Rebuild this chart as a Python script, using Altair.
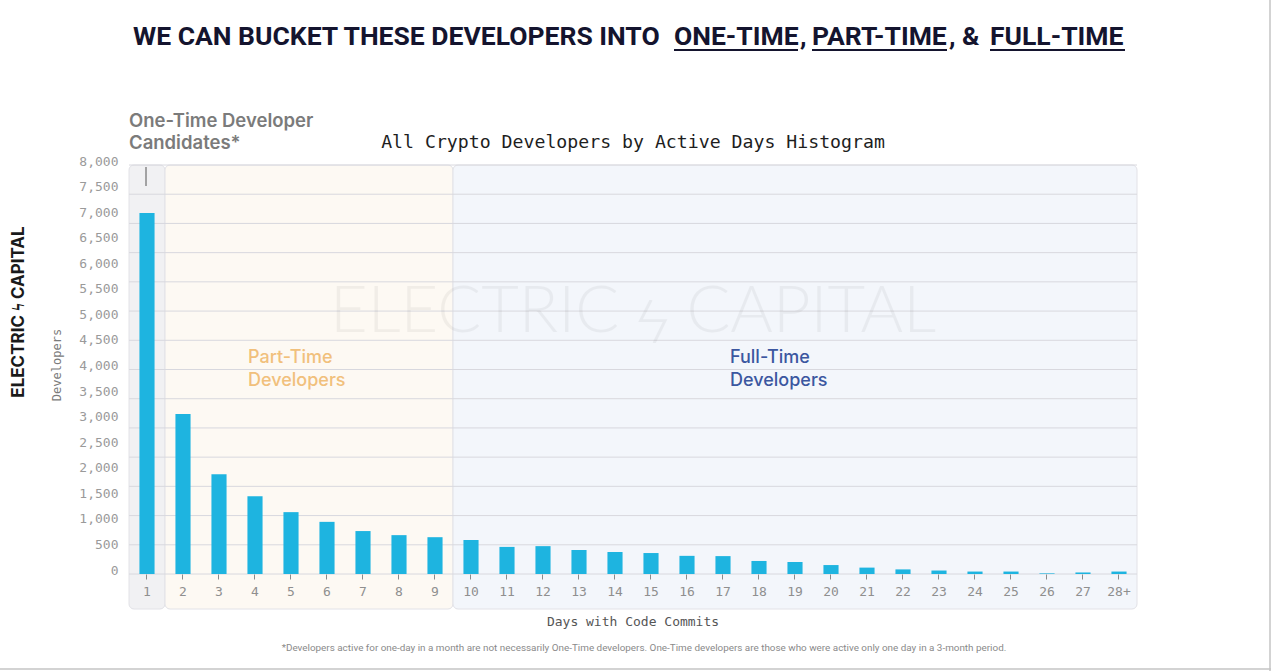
import altair as alt
import pandas as pd

# ---- data ----
days = [str(d) for d in range(1, 28)] + ["28+"]
developers = [7060, 3130, 1950, 1520, 1210, 1020, 840, 760, 720,
              665, 530, 545, 470, 430, 410, 355, 350, 255, 235,
              175, 125, 90, 68, 48, 48, 12, 30, 48]
y_ticks = list(range(0, 8001, 500))
grid_values = [0, 571.4, 1142.9, 1714.3, 2285.7, 2857.1, 3428.6, 4000,
               4571.4, 5142.9, 5714.3, 6285.7, 6857.1, 7428.6, 8000]
region_start = [0, 1, 9]
region_end = [1, 9, 28]
region_fill = ["#f1f1f3", "#fdf9f3", "#f3f6fb"]

W, H = 1008, 409
OX, OY = 129, 165  # plot origin on the page

bars_df = pd.DataFrame({"Day": days, "Developers": developers})
grid_df = pd.DataFrame({"Developers": grid_values})
reg_df = pd.DataFrame({"start": region_start, "end": region_end, "fill": region_fill})

yscale = alt.Scale(domain=[0, 8000], nice=False, zero=True)
yaxis = alt.Axis(values=y_ticks, format=",d", labelExpr="format(datum.value, ',d')",
                 title=None, zindex=1)

bg = alt.Chart(reg_df).mark_rect(cornerRadius=5, strokeWidth=1, clip=False).encode(
    x=alt.X("start:Q", scale=alt.Scale(domain=[0, 28], nice=False, zero=False), axis=None),
    x2="end:Q",
    y=alt.value(0),
    y2=alt.value(444),
    color=alt.Color("fill:N", scale=None),
    stroke=alt.value("#e2e2e7"),
)

grid = alt.Chart(grid_df).mark_rule(color="#d8d8de", strokeWidth=1).encode(
    y=alt.Y("Developers:Q", scale=yscale, axis=yaxis),
    x=alt.value(0),
    x2=alt.value(W),
)

bars = alt.Chart(bars_df).mark_bar(color="#1eb4e0").encode(
    x=alt.X("Day:N", sort=days,
            scale=alt.Scale(paddingInner=0.58, paddingOuter=0.29),
            axis=alt.Axis(title=None, labelAngle=0, domain=False, ticks=True, zindex=1,
                          tickSize=5, tickColor="#8a8a8a", labelPadding=6,
                          labelFont="DejaVu Sans Mono", labelFontSize=13,
                          labelColor="#8f8f8f")),
    y=alt.Y("Developers:Q", scale=yscale, axis=yaxis),
)


def txt(text, x, y, size, color, font="Inter", weight=400, align="left",
        baseline="middle", angle=0, opacity=1.0):
    props = dict(text=text, fontSize=size, color=color, font=font, fontWeight=weight,
                 align=align, baseline=baseline, opacity=opacity)
    if angle:
        props["angle"] = angle
    return alt.Chart(pd.DataFrame({"a": [0]})).mark_text(**props).encode(
        x=alt.value(x - OX), y=alt.value(y - OY))


def line(x1, y1, x2, y2, color, width):
    return alt.Chart(pd.DataFrame({"a": [0]})).mark_rule(color=color, strokeWidth=width).encode(
        x=alt.value(x1 - OX), x2=alt.value(x2 - OX),
        y=alt.value(y1 - OY), y2=alt.value(y2 - OY))


HEAD_FONT = "Roboto"
HEAD_COL = "#14142e"
HS = 26.5
head_y = 45
heading = [
    txt("WE CAN BUCKET THESE DEVELOPERS INTO", 133, head_y, HS, HEAD_COL, HEAD_FONT, 700, baseline="alphabetic"),
    txt("ONE-TIME", 674, head_y, HS, HEAD_COL, HEAD_FONT, 700, baseline="alphabetic"),
    txt(",", 800, head_y, HS, HEAD_COL, HEAD_FONT, 700, baseline="alphabetic"),
    txt("PART-TIME", 812, head_y, HS, HEAD_COL, HEAD_FONT, 700, baseline="alphabetic"),
    txt(", &", 949, head_y, HS, HEAD_COL, HEAD_FONT, 700, baseline="alphabetic"),
    txt("FULL-TIME", 990, head_y, HS, HEAD_COL, HEAD_FONT, 700, baseline="alphabetic"),
    line(674, 50, 798, 50, HEAD_COL, 2),
    line(812, 50, 947, 50, HEAD_COL, 2),
    line(990, 50, 1125, 50, HEAD_COL, 2),
]

annotations = [
    txt("ELECTRIC ϟ CAPITAL", 633, 312, 65, "#000000", "Lato", 300, align="center", opacity=0.045),
    txt("All Crypto Developers by Active Days Histogram", 633, 143, 18.2, "#1e1e1e",
        "DejaVu Sans Mono", align="center"),
    txt("One-Time Developer", 129, 121, 18.5, "#7b7b7b", "Inter", 600),
    txt("Candidates*", 129, 143, 18.5, "#7b7b7b", "Inter", 600),
    line(146, 167, 146, 186, "#555555", 1),
    txt("Part-Time", 248, 358, 18, "#f1c07c", "Inter", 500),
    txt("Developers", 248, 381, 18, "#f1c07c", "Inter", 500),
    txt("Full-Time", 730, 358, 18, "#3b57a0", "Inter", 500),
    txt("Developers", 730, 381, 18, "#3b57a0", "Inter", 500),
    txt("Developers", 57, 365, 12, "#7a7a7a", "DejaVu Sans Mono", align="center", angle=270),
    txt("Days with Code Commits", 633, 622, 13, "#555555", "DejaVu Sans Mono", align="center"),
    txt("ELECTRIC ϟ CAPITAL", 19, 312, 17, "#1a1a1a", "Inter", 700, align="center", angle=270),
    txt("*Developers active for one-day in a month are not necessarily One-Time developers. "
        "One-Time developers are those who were active only one day in a 3-month period.",
        644, 648, 9.9, "#8a8a8a", "Roboto", align="center"),
    line(1270, 0, 1270, 671, "#c4c4c4", 1.5),
    line(0, 669, 1271, 669, "#c4c4c4", 1.5),
]

chart = alt.layer(bg, grid, annotations[0], bars, *annotations[1:], *heading).resolve_scale(
    x="independent"
).properties(
    width=W, height=H,
    autosize=alt.AutoSizeParams(type="none"),
    padding={"left": OX, "top": OY, "right": 1271 - OX - W, "bottom": 671 - OY - H},
    background="white",
).configure_view(stroke=None).configure_axisY(
    grid=False, domain=False, ticks=False, labelPadding=11, labelOffset=-4,
    labelFont="DejaVu Sans Mono", labelFontSize=13, labelColor="#9a9a9a",
).configure_axisX(grid=False)

chart.save("out.html", embed_options={"renderer": "svg", "actions": False})
